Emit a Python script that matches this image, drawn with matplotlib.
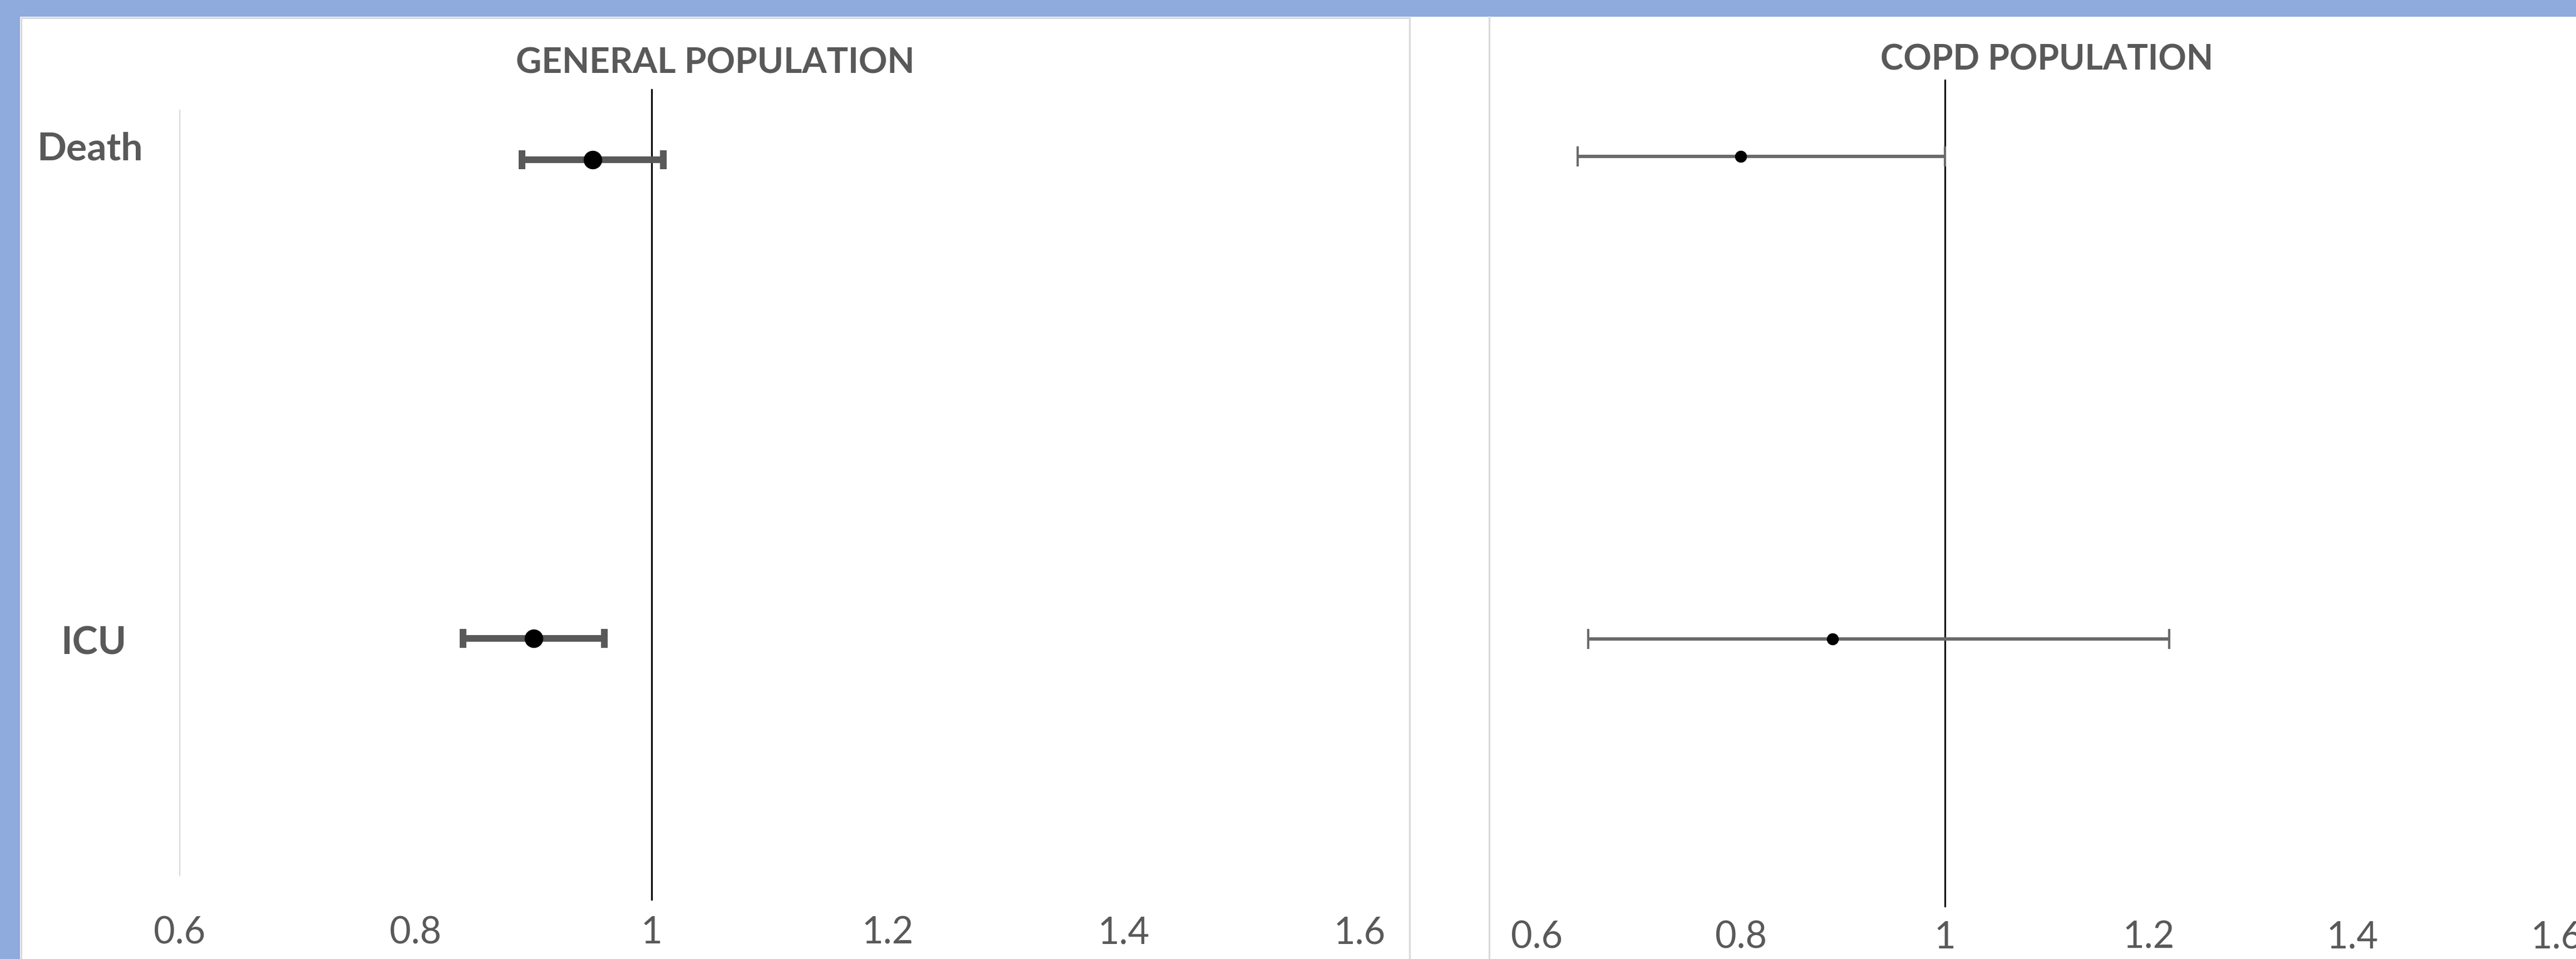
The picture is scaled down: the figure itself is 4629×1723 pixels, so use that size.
import matplotlib
matplotlib.use("Agg")
import matplotlib.pyplot as plt
from matplotlib.patches import Rectangle
from matplotlib.lines import Line2D
from matplotlib.ticker import FuncFormatter

# ---------------- data ----------------
outcomes = ["Death", "ICU"]
general_or = [0.95, 0.90]
general_lo = [0.89, 0.84]
general_hi = [1.01, 0.96]
copd_or = [0.80, 0.89]
copd_lo = [0.64, 0.65]
copd_hi = [1.00, 1.22]
x_ticks = [0.6, 0.8, 1.0, 1.2, 1.4, 1.6]
titles = ["GENERAL POPULATION", "COPD POPULATION"]

# ---------------- layout ----------------
W, H = 4629, 1723
DPI = 100
plt.rcParams['font.family'] = ['Lato', 'DejaVu Sans']
TXT = '#595959'
BLUE = '#8FAADC'
BORDER = '#D9D9D9'

fig = plt.figure(figsize=(W / DPI, H / DPI), dpi=DPI, facecolor='white')

def fx(px):
    return px / W

def fy(py):
    return 1 - py / H

# blue frame (top and left)
fig.patches.append(Rectangle((0, fy(30)), 1, 30 / H, transform=fig.transFigure,
                             facecolor=BLUE, edgecolor='none', zorder=0))
fig.patches.append(Rectangle((0, 0), fx(36), 1, transform=fig.transFigure,
                             facecolor=BLUE, edgecolor='none', zorder=0))
# left chart border
fig.lines.append(Line2D([fx(37.5), fx(2532.5)], [fy(31.5), fy(31.5)], transform=fig.transFigure,
                        color=BORDER, lw=2.2))
fig.lines.append(Line2D([fx(37.5), fx(37.5)], [0, fy(31.5)], transform=fig.transFigure,
                        color=BORDER, lw=2.2))
fig.lines.append(Line2D([fx(2532.5), fx(2532.5)], [0, fy(31.5)], transform=fig.transFigure,
                        color=BORDER, lw=2.2))
# right chart left border
fig.lines.append(Line2D([fx(2675.5), fx(2675.5)], [0, fy(30)], transform=fig.transFigure,
                        color=BORDER, lw=2.2))

AX_TOP, AX_BOT = 198, 1573

def make_ax(left_px, right_px):
    return fig.add_axes([fx(left_px), fy(AX_BOT), (right_px - left_px) / W, (AX_BOT - AX_TOP) / H])

def yfrac(py):
    return (AX_BOT - py) / (AX_BOT - AX_TOP)

panels = [
    dict(left=323, right=2443, orv=general_or, lo=general_lo, hi=general_hi,
         rows=[yfrac(287), yfrac(1147)], ref=(161, 1616), color='#595959', lw=8.6,
         capsize=12.5, capthick=8.6, ms=23, show_axis=True, tick_pad=52,
         title_xy=(1285, 132), title_size=46),
    dict(left=2762, right=4594, orv=copd_or, lo=copd_lo, hi=copd_hi,
         rows=[yfrac(281), yfrac(1148)], ref=(144, 1628), color='#6A6A6A', lw=4.3,
         capsize=13, capthick=2.9, ms=14.5, show_axis=False, tick_pad=58,
         title_xy=(3678, 126), title_size=45),
]

for p, title in zip(panels, titles):
    ax = make_ax(p['left'], p['right'])
    ax.set_facecolor('none')
    ax.set_xlim(x_ticks[0], x_ticks[-1])
    ax.set_ylim(0, 1)
    for s in ['top', 'right', 'bottom']:
        ax.spines[s].set_visible(False)
    if p['show_axis']:
        ax.spines['left'].set_color(BORDER)
        ax.spines['left'].set_linewidth(1.5)
    else:
        ax.spines['left'].set_visible(False)
    ax.set_yticks([])
    ax.set_xticks(x_ticks)
    ax.xaxis.set_major_formatter(FuncFormatter(lambda v, pos: f"{v:g}"))
    ax.tick_params(axis='x', length=0, pad=p['tick_pad'], labelsize=48, labelcolor=TXT)

    ymin = yfrac(p['ref'][1])
    ymax = yfrac(p['ref'][0])
    ax.axvline(1.0, ymin=ymin, ymax=ymax, color='black', lw=2.2, clip_on=False, zorder=2)

    xerr = [[o - l for o, l in zip(p['orv'], p['lo'])],
            [h - o for o, h in zip(p['orv'], p['hi'])]]
    ax.errorbar(p['orv'], p['rows'], xerr=xerr, fmt='o', color='black',
                ecolor=p['color'], elinewidth=p['lw'], capsize=p['capsize'],
                capthick=p['capthick'], markersize=p['ms'], markeredgecolor='black',
                zorder=3, clip_on=False)

    fig.text(fx(p['title_xy'][0]), fy(p['title_xy'][1]), title, ha='center', va='baseline',
             fontsize=p['title_size'], fontweight='bold', color=TXT)

# row labels on the left chart
label_xy = [(162, 287), (168, 1175)]
for lab, (lx, ly) in zip(outcomes, label_xy):
    fig.text(fx(lx), fy(ly), lab, ha='center', va='baseline', fontsize=50,
             fontweight='bold', color=TXT)

fig.savefig('out.png', dpi=DPI, facecolor='white')
